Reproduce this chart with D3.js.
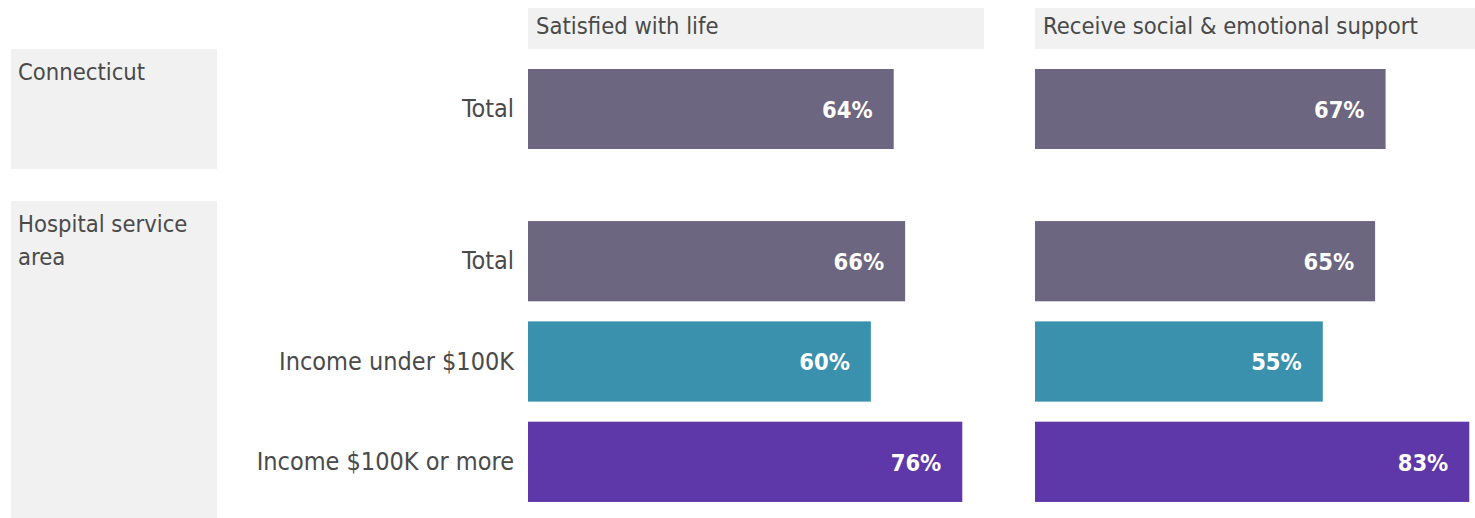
<!DOCTYPE html>
<html><head><meta charset="utf-8">
<script src="https://cdn.jsdelivr.net/npm/d3@7"></script>
<style>
body{margin:0;background:#fff;}
text{font-family:"Liberation Sans Narrow","DejaVu Sans Condensed","Roboto",sans-serif;}
</style></head>
<body><svg id="c" width="1475" height="518"></svg>
<script>
const measures = ["Satisfied with life", "Receive social & emotional support"];
const groups = ["Connecticut", "Hospital service area"];
const groupLabels = [["Connecticut"], ["Hospital service", "area"]];
const categories = [["Total"], ["Total", "Income under $100K", "Income $100K or more"]];
const satisfied = [[64], [66, 60, 76]];
const support = [[67], [65, 55, 83]];
const seriesValues = [satisfied, support];
const colors = {"Total": "#6c6680", "Income under $100K": "#3a91ae", "Income $100K or more": "#5e37a9"};

const svg = d3.select("#c");
const W = 1475, H = 518;
const defs = svg.append("defs");
defs.append("clipPath").attr("id","clip").append("rect").attr("x",0).attr("y",0).attr("width",W).attr("height",H);
const root = svg.append("g").attr("clip-path","url(#clip)");

const colX = [[528, 984], [1035, 1491]];
const rowY = [[49, 169], [201, 522]];
const stripX = [11, 217];
const headerY = [8, 49];
const textColor = "#4a4a4a";

// column headers
measures.forEach((m, i) => {
  root.append("rect").attr("x", colX[i][0]).attr("y", headerY[0])
    .attr("width", colX[i][1]-colX[i][0]).attr("height", headerY[1]-headerY[0]).attr("fill", "#f1f1f1");
  root.append("text").attr("x", colX[i][0] + 8).attr("y", (headerY[0]+headerY[1])/2 - 3)
    .attr("dy", "0.35em").attr("font-size", 23.6).attr("fill", textColor).text(m);
});

// row strips
groups.forEach((g, r) => {
  root.append("rect").attr("x", stripX[0]).attr("y", rowY[r][0])
    .attr("width", stripX[1]-stripX[0]).attr("height", rowY[r][1]-rowY[r][0]).attr("fill", "#f1f1f1");
  const t = root.append("text").attr("x", stripX[0] + 7).attr("y", rowY[r][0] + 31)
    .attr("font-size", 23.6).attr("fill", textColor);
  groupLabels[r].forEach((line, k) => {
    t.append("tspan").attr("x", stripX[0] + 7).attr("dy", k === 0 ? 0 : 33).text(line);
  });
});

// panels
groups.forEach((g, r) => {
  const y = d3.scaleBand().domain(categories[r]).range(rowY[r]).paddingInner(0.2).paddingOuter(0.2);
  const axis = d3.axisLeft(y).tickSize(0).tickPadding(14);
  const ag = root.append("g").attr("transform", `translate(${colX[0][0]},0)`).call(axis);
  ag.select(".domain").remove();
  ag.selectAll("text").attr("font-size", 25).attr("fill", textColor)
    .attr("font-family", '"Liberation Sans Narrow","DejaVu Sans Condensed",sans-serif');
  measures.forEach((m, c) => {
    const vals = seriesValues[c];
    const allMax = d3.max(vals.flat());
    const x = d3.scaleLinear().domain([0, allMax * 1.05]).range(colX[c]);
    const data = categories[r].map((cat, k) => ({cat, v: vals[r][k]}));
    root.selectAll(null).data(data).enter().append("rect")
      .attr("x", x(0)).attr("y", d => y(d.cat))
      .attr("width", d => x(d.v) - x(0)).attr("height", y.bandwidth())
      .attr("fill", d => colors[d.cat]);
    root.selectAll(null).data(data).enter().append("text")
      .attr("x", d => x(d.v) - 21).attr("y", d => y(d.cat) + y.bandwidth()/2)
      .attr("dy", "0.37em").attr("text-anchor", "end")
      .attr("font-size", 23.5).attr("font-weight", "bold").attr("fill", "#fff")
      .text(d => d.v + "%");
  });
});
</script></body></html>
